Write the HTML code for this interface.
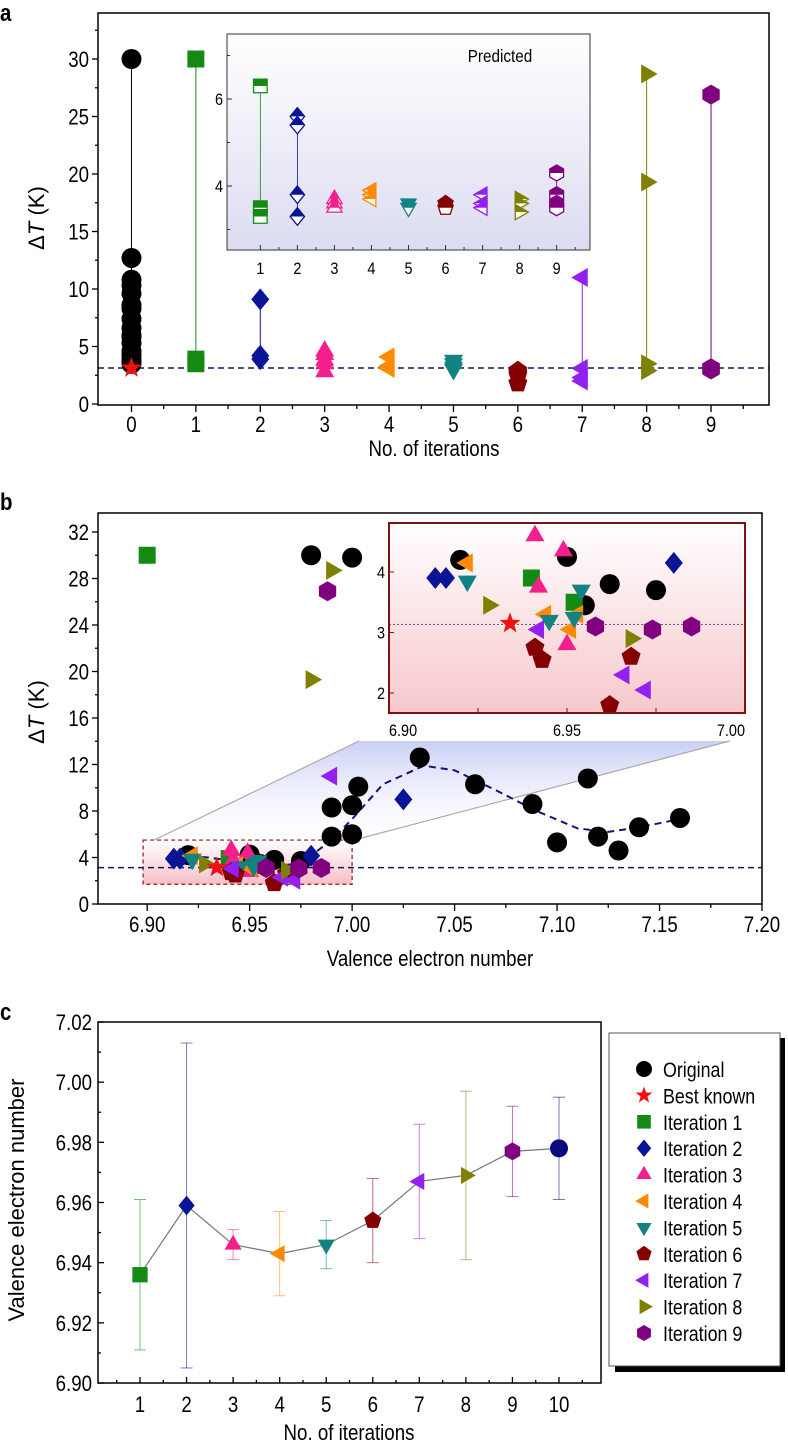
<!DOCTYPE html>
<html><head><meta charset="utf-8"><style>
html,body{margin:0;padding:0;background:#fff;}
svg{display:block;font-family:"Liberation Sans",sans-serif;}
</style></head><body>
<svg id="fig" width="788" height="1446" viewBox="0 0 788 1446" xmlns="http://www.w3.org/2000/svg">
<defs>
<linearGradient id="gInA" x1="0" y1="0" x2="0" y2="1"><stop offset="0" stop-color="#ffffff"/><stop offset="1" stop-color="#dcdcf2"/></linearGradient>
<linearGradient id="gInB" x1="0" y1="0" x2="0" y2="1"><stop offset="0" stop-color="#ffffff"/><stop offset="1" stop-color="#f6c8cc"/></linearGradient>
<linearGradient id="gZoom" x1="0" y1="0" x2="0" y2="1"><stop offset="0" stop-color="#c9cff5"/><stop offset="1" stop-color="#ffffff" stop-opacity="0.2"/></linearGradient>
<linearGradient id="gRect" x1="0" y1="0" x2="0" y2="1"><stop offset="0" stop-color="#fff"/><stop offset="1" stop-color="#f6c0c8"/></linearGradient>
</defs>
</svg>
<script>
// ---------- data ----------
const colors = {orig:"#000000",best:"#ee1111",it1:"#148a14",it2:"#0a1496",it3:"#f41e8c",it4:"#ff8a00",it5:"#128282",it6:"#840000",it7:"#9420f0",it8:"#808000",it9:"#800080"};
const shapes = {orig:"circle",best:"star",it1:"square",it2:"diamond",it3:"triUp",it4:"triLeft",it5:"triDown",it6:"pentagon",it7:"triLeft",it8:"triRight",it9:"hexagon"};
const seriesKeys = ["orig","best","it1","it2","it3","it4","it5","it6","it7","it8","it9"];
const legendLabels = ["Original","Best known","Iteration 1","Iteration 2","Iteration 3","Iteration 4","Iteration 5","Iteration 6","Iteration 7","Iteration 8","Iteration 9"];

// panel a: delta T per iteration
const aOrig = [30,12.7,10.8,10.3,9.6,8.6,8.3,7.4,6.6,6.0,5.8,5.3,4.6,4.3,4.2,3.8,3.7,3.5];
const aIter = {it1:[30,3.9,3.5],it2:[9.1,4.2,3.9],it3:[4.6,4.3,3.8,3.5,2.8],it4:[4.1,3.3,3.1],it5:[3.8,3.5,3.2,3.0],it6:[2.9,2.7,2.5,1.8],it7:[11.0,3.1,2.3,2.0],it8:[28.7,19.3,3.5,2.9],it9:[26.9,3.1,3.1,3.0]};
const bestKnown = 3.13;
const aPred = {it1:[6.3,3.5,3.3],it2:[5.6,5.4,3.8,3.3],it3:[3.7,3.6,3.5],it4:[3.9,3.8,3.7],it5:[3.6,3.5],it6:[3.6,3.5],it7:[3.8,3.6,3.5],it8:[3.7,3.6,3.4],it9:[4.3,3.8,3.6,3.5]};
const aXTicks = [0,1,2,3,4,5,6,7,8,9];
const aYTicks = [0,5,10,15,20,25,30];
const aInXTicks = [1,2,3,4,5,6,7,8,9];
const aInYTicks = [4,6];

// panel b: valence electron number vs delta T
const bOrigX = [6.98,7.0,6.92,6.95,6.955,6.962,6.975,6.99,6.99,7.0,7.0,7.003,7.033,7.06,7.088,7.1,7.115,7.12,7.13,7.14,7.16];
const bOrigY = [30,29.8,4.2,4.25,3.45,3.8,3.7,8.3,5.8,8.5,6.0,10.1,12.6,10.3,8.6,5.3,10.8,5.8,4.6,6.6,7.4];
const bBestX = [6.934]; const bBestY = [3.15];
const bIt1X = [6.90,6.94,6.952]; const bIt1Y = [30,3.9,3.5];
const bIt2X = [7.025,6.913,6.916,6.98]; const bIt2Y = [9.0,3.9,3.9,4.15];
const bIt3X = [6.941,6.949,6.942,6.95]; const bIt3Y = [4.6,4.35,3.75,2.8];
const bIt4X = [6.922,6.944,6.951,6.953]; const bIt4Y = [4.15,3.3,3.05,3.3];
const bIt5X = [6.922,6.945,6.952,6.954]; const bIt5Y = [3.85,3.2,3.25,3.7];
const bIt6X = [6.941,6.943,6.962,6.968]; const bIt6Y = [2.75,2.55,1.8,2.6];
const bIt7X = [6.99,6.942,6.966,6.972]; const bIt7Y = [11.0,3.05,2.3,2.05];
const bIt8X = [6.99,6.98,6.928,6.968]; const bIt8Y = [28.7,19.3,3.45,2.9];
const bIt9X = [6.988,6.958,6.974,6.985]; const bIt9Y = [26.9,3.1,3.05,3.1];
const bFitX = [6.915,6.93,6.95,6.965,6.975,6.99,7.0,7.015,7.035,7.05,7.07,7.09,7.11,7.125,7.14,7.16];
const bFitY = [4.2,4.0,3.5,3.3,3.5,5.5,7.3,10.3,11.9,11.5,9.8,8.0,6.5,6.2,6.6,7.3];
const bXTicks = [6.90,6.95,7.00,7.05,7.10,7.15,7.20];
const bYTicks = [0,4,8,12,16,20,24,28,32];
const bInXTicks = [6.90,6.95,7.00];
const bInYTicks = [2,3,4];

// panel c: mean valence electron number per iteration
const cIter = [1,2,3,4,5,6,7,8,9,10];
const cMean = [6.936,6.959,6.946,6.943,6.946,6.954,6.967,6.969,6.977,6.978];
const cLow  = [6.911,6.905,6.941,6.929,6.938,6.940,6.948,6.941,6.962,6.961];
const cHigh = [6.961,7.013,6.951,6.957,6.954,6.968,6.986,6.997,6.992,6.995];
const cKeys = ["it1","it2","it3","it4","it5","it6","it7","it8","it9","c10"];
const cYTicks = [6.90,6.92,6.94,6.96,6.98,7.00,7.02];

// ---------- helpers ----------
const svg = document.getElementById('fig');
const NS = "http://www.w3.org/2000/svg";
const FS = 22;
function mk(tag, attrs, parent){ const e=document.createElementNS(NS,tag); for(const k in attrs) e.setAttribute(k,attrs[k]); (parent||svg).appendChild(e); return e; }
function lin(d0,d1,r0,r1){ return v => r0+(v-d0)*(r1-r0)/(d1-d0); }
function shapePath(shape,x,y,r){
  const pts=(n,rot,rr)=>{let a=[];for(let i=0;i<n;i++){const t=rot+i*2*Math.PI/n;a.push((x+rr*Math.cos(t)).toFixed(2)+","+(y+rr*Math.sin(t)).toFixed(2));}return "M"+a.join("L")+"Z";};
  switch(shape){
    case "circle": return `M${x-r},${y}a${r},${r} 0 1,0 ${2*r},0a${r},${r} 0 1,0 ${-2*r},0Z`;
    case "square": {const s=r*0.85;return `M${x-s},${y-s}H${x+s}V${y+s}H${x-s}Z`;}
    case "diamond": return `M${x},${y-r*1.1}L${x+r*0.9},${y}L${x},${y+r*1.1}L${x-r*0.9},${y}Z`;
    case "triUp": return pts(3,-Math.PI/2,r*1.1);
    case "triDown": return pts(3,Math.PI/2,r*1.1);
    case "triLeft": return pts(3,Math.PI,r*1.1);
    case "triRight": return pts(3,0,r*1.1);
    case "pentagon": return pts(5,-Math.PI/2,r);
    case "hexagon": return pts(6,-Math.PI/2,r);
    case "star": {let a=[];for(let i=0;i<10;i++){const t=-Math.PI/2+i*Math.PI/5;const rr=i%2?r*0.45:r*1.1;a.push((x+rr*Math.cos(t)).toFixed(2)+","+(y+rr*Math.sin(t)).toFixed(2));}return "M"+a.join("L")+"Z";}
  }
}
function marker(key,x,y,r,parent,name){
  const p=mk("path",{d:shapePath(shapes[key],x,y,r),fill:colors[key]},parent);
  
  
  return p;
}
let clipN=0;
function halfMarker(key,x,y,r,parent){
  const id="hc"+(clipN++);
  const cp=mk("clipPath",{id:id},parent); mk("rect",{x:x-r*2,y:y-r*2,width:r*4,height:r*2},cp);
  const d=shapePath(shapes[key],x,y,r);
  const o=mk("path",{d:d,fill:"#fff",stroke:colors[key],"stroke-width":1.3},parent);
  
  
  const f=mk("path",{d:d,fill:colors[key],"clip-path":`url(#${id})`},parent);
  
  
}
// condensed text: scaleX 0.85 around anchor x
function text(str,x,y,opts,parent,name){
  opts=Object.assign({"font-size":FS},opts||{});
  const t=mk("text",Object.assign({x:x,y:y,fill:"#000"},opts),parent);
  if(!opts.transform){ t.setAttribute("transform",`translate(${x} 0) scale(0.85 1) translate(${-x} 0)`); }
  t.textContent=str;
  
  
  return t;
}
function grp(name){ const g=mk("g",{});   return g; }

// ================= PANEL A =================
(function(){
  const g=grp('panel-a');
  const L=98,R=769,T=13,B=405;
  const x=lin(-0.52,9.9,L,R), y=lin(0,30,404,59);
  text("a",0,21,{"font-size":24,"font-weight":"bold"},g,'panel-a-label');
  const dl=mk("line",{x1:L,x2:R,y1:y(bestKnown),y2:y(bestKnown),stroke:"#141464","stroke-width":1.5,"stroke-dasharray":"6,4"},g);
   
  const all={orig:aOrig}; for(const k in aIter) all[k]=aIter[k];
  const keys=Object.keys(all);
  keys.forEach((k,i)=>{const v=all[k];const mx=Math.max(...v),mn=Math.min(...v);
    const ln=mk("line",{x1:x(i),x2:x(i),y1:y(mx),y2:y(mn),stroke:colors[k],"stroke-width":1},g);
     });
  keys.forEach((k,i)=>{all[k].forEach(v=>marker(k,x(i),y(v),10,g,'point-'+k));});
  marker("best",x(0),y(bestKnown),10,g,'best-known-point');
  const ax=mk("rect",{x:L,y:T,width:R-L,height:B-T,fill:"none",stroke:"#000","stroke-width":1.5},g);
   
  aXTicks.forEach(t=>{mk("line",{x1:x(t),x2:x(t),y1:B,y2:B+7,stroke:"#000","stroke-width":1.3},g);
    mk("line",{x1:x(t+0.5),x2:x(t+0.5),y1:B,y2:B+4,stroke:"#000","stroke-width":1.3},g);
    text(String(t),x(t),432,{"text-anchor":"middle"},g,'x-tick-label');});
  aYTicks.forEach(t=>{mk("line",{x1:L,x2:L-6,y1:y(t),y2:y(t),stroke:"#000","stroke-width":1.3},g);
    mk("line",{x1:L,x2:L-3,y1:y(t+2.5),y2:y(t+2.5),stroke:"#000","stroke-width":1.3},g);
    text(String(t),L-9,y(t)+8,{"text-anchor":"end"},g,'y-tick-label');});
  text("No. of iterations",434,456,{"text-anchor":"middle"},g,'x-axis-title');
  const yt=text("",44,218,{"text-anchor":"middle",transform:"rotate(-90 44 218)"},g,'y-axis-title');
  yt.innerHTML='Δ<tspan font-style="italic">T</tspan> (K)';
  // inset
  const IL=227,IR=590,IT=34,IB=250;
  const ix=lin(0.1,9.9,IL,IR), iy=lin(4,6,186,99);
  const ib=mk("rect",{x:IL,y:IT,width:IR-IL,height:IB-IT,fill:"url(#gInA)",stroke:"#333","stroke-width":1},g);
   
  text("Predicted",500,62,{"text-anchor":"middle","font-size":18},g,'inset-title');
  Object.keys(aPred).forEach((k,i)=>{const v=aPred[k];
    mk("line",{x1:ix(i+1),x2:ix(i+1),y1:iy(Math.max(...v)),y2:iy(Math.min(...v)),stroke:colors[k],"stroke-width":0.8},g);
    v.forEach(val=>halfMarker(k,ix(i+1),iy(val),8,g));});
  aInXTicks.forEach(t=>{mk("line",{x1:ix(t),x2:ix(t),y1:IB,y2:IB-5,stroke:"#333"},g);
    mk("line",{x1:ix(t+0.5),x2:ix(t+0.5),y1:IB,y2:IB-3,stroke:"#333"},g);
    text(String(t),ix(t),274,{"text-anchor":"middle","font-size":17},g,'inset-x-tick-label');});
  [3,4,5,6,7].forEach(t=>mk("line",{x1:IL,x2:IL+(t%2?3:5),y1:iy(t),y2:iy(t),stroke:"#333"},g));
  aInYTicks.forEach(t=>text(String(t),IL-4,iy(t)+6,{"text-anchor":"end","font-size":17},g,'inset-y-tick-label'));
})();

// ================= PANEL B =================
(function(){
  const g=grp('panel-b');
  const L=98,R=762,T=513,B=904;
  const x=lin(6.876,7.2,L,R), y=lin(0,32,904,532);
  text("b",0,510,{"font-size":24,"font-weight":"bold"},g,'panel-b-label');
  const wz=mk("path",{d:"M148,843 L359,741 L730,741 L354,840 Z",fill:"url(#gZoom)",stroke:"none"},g);
   
  mk("line",{x1:148,y1:843,x2:359,y2:741,stroke:"#aaa","stroke-width":1.2},g);
  mk("line",{x1:354,y1:840,x2:730,y2:741,stroke:"#aaa","stroke-width":1.2},g);
  const zr=mk("rect",{x:x(6.898),y:y(5.5),width:x(7.0)-x(6.898),height:y(1.7)-y(5.5),fill:"url(#gRect)",stroke:"#8b1a1a","stroke-width":1.2,"stroke-dasharray":"4,3"},g);
   
  mk("line",{x1:L,x2:R,y1:y(bestKnown),y2:y(bestKnown),stroke:"#141464","stroke-width":1.5,"stroke-dasharray":"6,4"},g);
  let d="";bFitX.forEach((v,i)=>{d+=(i?"L":"M")+x(v).toFixed(1)+","+y(bFitY[i]).toFixed(1);});
  const fc=mk("path",{d:d,fill:"none",stroke:"#141478","stroke-width":2,"stroke-dasharray":"7,5"},g);
   
  const sets=[["orig",bOrigX,bOrigY],["it1",bIt1X,bIt1Y],["it2",bIt2X,bIt2Y],["it3",bIt3X,bIt3Y],["it4",bIt4X,bIt4Y],["it5",bIt5X,bIt5Y],["it6",bIt6X,bIt6Y],["it7",bIt7X,bIt7Y],["it8",bIt8X,bIt8Y],["it9",bIt9X,bIt9Y],["best",bBestX,bBestY]];
  sets.forEach(s=>s[1].forEach((v,i)=>marker(s[0],x(v),y(s[2][i]),10,g,'point-'+s[0])));
  const ax=mk("rect",{x:L,y:T,width:R-L,height:B-T,fill:"none",stroke:"#000","stroke-width":1.5},g);
   
  bXTicks.forEach(t=>{mk("line",{x1:x(t),x2:x(t),y1:B,y2:B+7,stroke:"#000","stroke-width":1.3},g);
    if(t<7.2) mk("line",{x1:x(t+0.025),x2:x(t+0.025),y1:B,y2:B+4,stroke:"#000","stroke-width":1.3},g);
    text(t.toFixed(2),x(t),932,{"text-anchor":"middle"},g,'x-tick-label');});
  bYTicks.forEach(t=>{mk("line",{x1:L,x2:L-6,y1:y(t),y2:y(t),stroke:"#000","stroke-width":1.3},g);
    if(t<32) mk("line",{x1:L,x2:L-3,y1:y(t+2),y2:y(t+2),stroke:"#000","stroke-width":1.3},g);
    text(String(t),L-9,y(t)+8,{"text-anchor":"end"},g,'y-tick-label');});
  text("Valence electron number",430,966,{"text-anchor":"middle"},g,'x-axis-title');
  const yt=text("",44,712,{"text-anchor":"middle",transform:"rotate(-90 44 712)"},g,'y-axis-title');
  yt.innerHTML='Δ<tspan font-style="italic">T</tspan> (K)';
  const IL=389,IR=745,IT=523,IB=713;
  const ix=lin(6.90,7.00,IL,IR), iy=lin(2,4,693,572);
  const ib=mk("rect",{x:IL,y:IT,width:IR-IL,height:IB-IT,fill:"url(#gInB)",stroke:"none"},g);
   
  const cp=mk("clipPath",{id:"cpB"},g); mk("rect",{x:IL,y:IT,width:IR-IL,height:IB-IT},cp);
  const ig=mk("g",{"clip-path":"url(#cpB)"},g);
   
  mk("line",{x1:IL,x2:IR,y1:iy(bestKnown),y2:iy(bestKnown),stroke:"#333366","stroke-width":0.8,"stroke-dasharray":"2,2"},ig);
  sets.forEach(s=>s[1].forEach((v,i)=>{if(v>=6.895&&v<=7.005) marker(s[0],ix(v),iy(s[2][i]),10,ig,'inset-point-'+s[0]);}));
  mk("rect",{x:IL,y:IT,width:IR-IL,height:IB-IT,fill:"none",stroke:"#7a1414","stroke-width":2},g);
  bInXTicks.forEach(t=>{text(t.toFixed(2),ix(t),736,{"text-anchor":t===7?"end":(t===6.9?"start":"middle"),"font-size":17},g,'inset-x-tick-label');});
  [6.925,6.95,6.975].forEach(t=>mk("line",{x1:ix(t),x2:ix(t),y1:IB,y2:IB-5,stroke:"#7a1414"},g));
  bInYTicks.forEach(t=>{mk("line",{x1:IL,x2:IL+5,y1:iy(t),y2:iy(t),stroke:"#7a1414"},g);
    text(String(t),IL-4,iy(t)+6,{"text-anchor":"end","font-size":17},g,'inset-y-tick-label');});
})();

// ================= PANEL C =================
(function(){
  const g=grp('panel-c');
  const L=98,R=601,T=1022,B=1383;
  const x=lin(1,10,140,559), y=lin(6.90,7.02,1383,1022);
  colors.c10="#0a0a80"; shapes.c10="circle";
  text("c",0,1020,{"font-size":24,"font-weight":"bold"},g,'panel-c-label');
  const ax=mk("rect",{x:L,y:T,width:R-L,height:B-T,fill:"none",stroke:"#000","stroke-width":1.5},g);
   
  cIter.forEach((it,i)=>{const c=colors[cKeys[i]]; const op=0.55;
    const eb=mk("g",{stroke:c,"stroke-opacity":op,"stroke-width":1},g);
     
    mk("line",{x1:x(it),x2:x(it),y1:y(cHigh[i]),y2:y(cLow[i])},eb);
    mk("line",{x1:x(it)-6,x2:x(it)+6,y1:y(cHigh[i]),y2:y(cHigh[i])},eb);
    mk("line",{x1:x(it)-6,x2:x(it)+6,y1:y(cLow[i]),y2:y(cLow[i])},eb);});
  let d="";cIter.forEach((it,i)=>{d+=(i?"L":"M")+x(it)+","+y(cMean[i]).toFixed(1);});
  const ml=mk("path",{d:d,fill:"none",stroke:"#777","stroke-width":1.2},g);
   
  cIter.forEach((it,i)=>marker(cKeys[i],x(it),y(cMean[i]),9,g,'mean-point'));
  cIter.forEach(t=>{mk("line",{x1:x(t),x2:x(t),y1:B,y2:B-6,stroke:"#000","stroke-width":1.3},g);
    mk("line",{x1:x(t+0.5),x2:x(t+0.5),y1:B,y2:B-3,stroke:"#000","stroke-width":1.3},g);
    text(String(t),x(t),1412,{"text-anchor":"middle"},g,'x-tick-label');});
  mk("line",{x1:x(0.5),x2:x(0.5),y1:B,y2:B-3,stroke:"#000","stroke-width":1.3},g);
  cYTicks.forEach(t=>{mk("line",{x1:L,x2:L+6,y1:y(t),y2:y(t),stroke:"#000","stroke-width":1.3},g);
    if(t<7.02) mk("line",{x1:L,x2:L+3,y1:y(t+0.01),y2:y(t+0.01),stroke:"#000","stroke-width":1.3},g);
    text(t.toFixed(2),L-6,y(t)+8,{"text-anchor":"end"},g,'y-tick-label');});
  text("No. of iterations",349,1440,{"text-anchor":"middle"},g,'x-axis-title');
  text("Valence electron number",24,1200,{"text-anchor":"middle",transform:"rotate(-90 24 1200)"},g,'y-axis-title');
  const lg=grp('legend');
  mk("rect",{x:615,y:1038,width:170,height:334,fill:"#000"},lg);
  mk("rect",{x:609,y:1033,width:171,height:333,fill:"#fff",stroke:"#555","stroke-width":1},lg);
  seriesKeys.forEach((k,i)=>{const yy=1069+i*26.4;
    marker(k,644,yy,8,lg,'legend-marker-'+k);
    text(legendLabels[i],663,yy+8,{"font-size":21},lg,'legend-entry');});
})();
</script>
</body></html>
